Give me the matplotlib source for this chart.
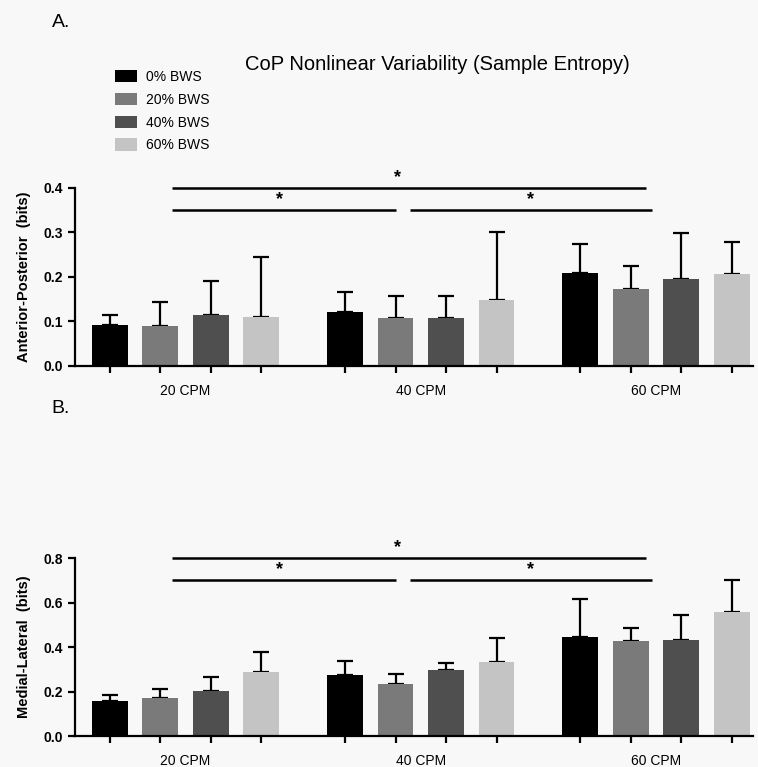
import matplotlib.pyplot as plt
from matplotlib.patches import Patch

plt.rcParams['font.family'] = ['Liberation Sans', 'DejaVu Sans']

groups = ["20 CPM", "40 CPM", "60 CPM"]
conditions = ["0% BWS", "20% BWS", "40% BWS", "60% BWS"]
colors = ["#000000", "#7a7a7a", "#4f4f4f", "#c4c4c4"]

# mean values, one list per BWS condition (20, 40, 60 CPM)
ap_mean = [[0.092, 0.121, 0.209],
           [0.090, 0.108, 0.173],
           [0.115, 0.108, 0.196],
           [0.110, 0.148, 0.207]]
ap_sd = [[0.023, 0.045, 0.065],
         [0.054, 0.049, 0.052],
         [0.075, 0.049, 0.103],
         [0.135, 0.153, 0.071]]

ml_mean = [[0.157, 0.274, 0.445],
           [0.171, 0.234, 0.427],
           [0.202, 0.297, 0.431],
           [0.288, 0.333, 0.557]]
ml_sd = [[0.027, 0.063, 0.171],
         [0.040, 0.045, 0.058],
         [0.063, 0.031, 0.113],
         [0.090, 0.107, 0.144]]

# significance brackets: (start, end) in bar slots, level as fraction of y max
sig_lines = [(1.23, 10.63, 1.0), (1.23, 5.67, 0.875), (5.95, 10.75, 0.875)]
sig_stars = [(5.69, 1.0), (3.36, 0.875), (8.34, 0.875)]

group_step = 4.66
bar_w = 0.71


def draw_panel(ax, means, sds, ymax, ylabel):
    ticks = []
    for i in range(len(conditions)):
        xs = [g * group_step + i for g in range(len(groups))]
        ticks += xs
        ax.bar(xs, means[i], width=bar_w, color=colors[i], zorder=2)
        ax.errorbar(xs, means[i], yerr=[[0] * len(xs), sds[i]], fmt='none',
                    ecolor='black', elinewidth=1.6, capsize=6, capthick=1.6, zorder=1)
    for x0, x1, lvl in sig_lines:
        ax.plot([x0, x1], [lvl * ymax, lvl * ymax], color='black', lw=1.8,
                clip_on=False, solid_capstyle='butt')
    for xs, lvl in sig_stars:
        ax.text(xs, lvl * ymax + 0.012 * ymax, "*", ha='center', va='bottom',
                fontsize=13, fontweight='bold')
    ax.set_xlim(-0.69, 12.75)
    ax.set_ylim(0, ymax)
    ax.set_yticks([ymax * k / 4 for k in range(5)])
    ax.set_yticklabels(["%.1f" % (ymax * k / 4) for k in range(5)],
                       fontsize=10, fontweight='bold')
    ax.set_xticks(ticks)
    ax.set_xticklabels([])
    for g, name in enumerate(groups):
        ax.text(g * group_step + 1.5, -0.1 * ymax, name, ha='center', va='top',
                fontsize=10, transform=ax.transData)
    ax.set_ylabel(ylabel, fontsize=10.5, fontweight='bold', labelpad=9)
    ax.spines['top'].set_visible(False)
    ax.spines['right'].set_visible(False)
    ax.spines['left'].set_linewidth(1.6)
    ax.spines['bottom'].set_linewidth(1.6)
    ax.tick_params(width=1.6, length=5)
    ax.set_facecolor('none')


fig = plt.figure(figsize=(7.58, 7.67), dpi=100, facecolor='#f8f8f8')
ax1 = fig.add_axes([0.099, 0.523, 0.895, 0.232])
ax2 = fig.add_axes([0.099, 0.0404, 0.895, 0.232])

draw_panel(ax1, ap_mean, ap_sd, 0.4, "Anterior-Posterior  (bits)")
draw_panel(ax2, ml_mean, ml_sd, 0.8, "Medial-Lateral  (bits)")

fig.text(0.068, 0.982, "A.", fontsize=14, va='top')
fig.text(0.068, 0.478, "B.", fontsize=14, va='top')
fig.text(0.577, 0.916, "CoP Nonlinear Variability (Sample Entropy)",
         fontsize=14.5, ha='center', va='center')

handles = [Patch(facecolor=c, label=l) for c, l in zip(colors, conditions)]
fig.legend(handles=handles, loc='upper left', bbox_to_anchor=(0.135, 0.925),
           frameon=False, fontsize=10, handlelength=1.58, handleheight=1.0,
           labelspacing=0.63, handletextpad=0.7, borderpad=0.4)

fig.savefig("out.png", dpi=100, facecolor=fig.get_facecolor())
